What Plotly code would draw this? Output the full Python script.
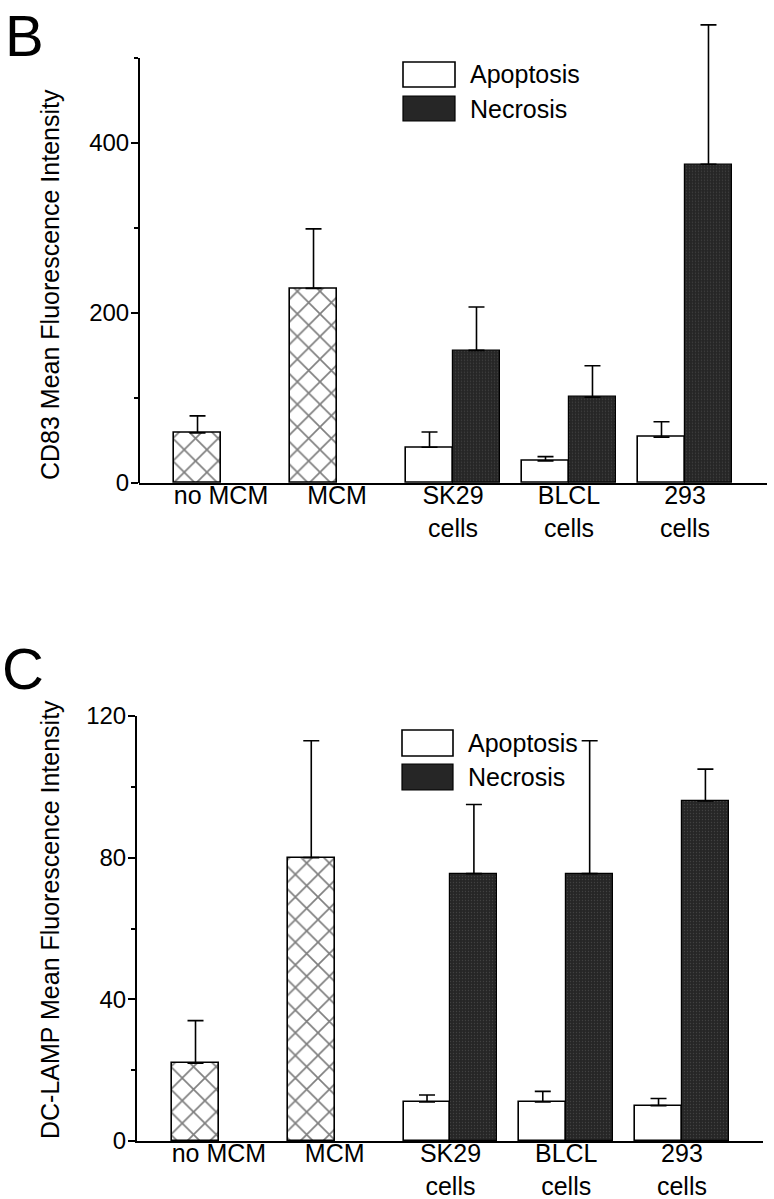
import plotly.graph_objects as go

# ---------------- data ----------------
categories = ["no MCM", "MCM", "SK29<br>cells", "BLCL<br>cells", "293<br>cells"]
control_cats = categories[:2]
cell_cats = categories[2:]

# Panel B: CD83 MFI
cd83_control = [59, 229]
cd83_control_err = [20, 70]
cd83_apoptosis = [42, 26, 54]
cd83_apoptosis_err = [18, 5, 18]
cd83_necrosis = [156, 101, 375]
cd83_necrosis_err = [51, 37, 164]

# Panel C: DC-LAMP MFI
lamp_control = [22, 80]
lamp_control_err = [12, 33]
lamp_apoptosis = [11, 11, 10]
lamp_apoptosis_err = [2, 3, 2]
lamp_necrosis = [75.5, 75.5, 96]
lamp_necrosis_err = [19.5, 37.5, 9]

# ---------------- geometry / style ----------------
FONT = "Liberation Sans, Arial, Helvetica, sans-serif"
BW = 0.405
NEC_COLOR = "#262626"

W, H = 774, 1199
ML, MR, MT, MB = 137, 7, 18, 58
PW = W - ML - MR
PH = H - MT - MB


def px2x(px):               # page pixel -> paper x
    return (px - ML) / PW


def py2y(py):               # page pixel -> paper y
    return (H - MB - py) / PH


def err(vals):
    return dict(type="data", array=vals, arrayminus=[0] * len(vals), symmetric=False,
                color="black", thickness=1.6, width=8)


fig = go.Figure()

panels = [
    ("x", "y", cd83_control, cd83_control_err, cd83_apoptosis, cd83_apoptosis_err,
     cd83_necrosis, cd83_necrosis_err),
    ("x2", "y2", lamp_control, lamp_control_err, lamp_apoptosis, lamp_apoptosis_err,
     lamp_necrosis, lamp_necrosis_err),
]

for xa, ya, c, ce, a, ae, n, ne in panels:
    fig.add_trace(go.Bar(
        x=control_cats, y=c, xaxis=xa, yaxis=ya, width=BW, offset=-BW,
        marker=dict(color="white", line=dict(color="black", width=1.6),
                    pattern=dict(shape="x", fgcolor="black", bgcolor="white",
                                 size=16, solidity=0.2)),
        error_y=err(ce), showlegend=False))
    fig.add_trace(go.Bar(
        x=cell_cats, y=a, xaxis=xa, yaxis=ya, width=BW, offset=-BW,
        marker=dict(color="white", line=dict(color="black", width=1.6)),
        error_y=err(ae), name="Apoptosis", showlegend=False))
    fig.add_trace(go.Bar(
        x=cell_cats, y=n, xaxis=xa, yaxis=ya, width=BW, offset=0,
        marker=dict(color=NEC_COLOR, line=dict(color="black", width=1.2),
                    pattern=dict(shape=".", fgcolor="#5c5c5c", bgcolor=NEC_COLOR,
                                 size=3, solidity=0.15)),
        error_y=err(ne), name="Necrosis", showlegend=False))

xaxis_common = dict(
    type="category", categoryorder="array", categoryarray=categories,
    showline=True, linecolor="black", linewidth=2,
    ticks="", showgrid=False, zeroline=False, ticklabelstandoff=-11,
    tickfont=dict(family=FONT, size=25, color="black"),
)
yaxis_common = dict(
    ticks="outside", ticklen=7, ticklabelstandoff=-3,
    tickwidth=2, tickcolor="black", showgrid=False, zeroline=False,
    tickfont=dict(family=FONT, size=24, color="black"),
)

fig.update_layout(
    width=W, height=H,
    margin=dict(l=ML, r=MR, t=MT, b=MB, autoexpand=False),
    paper_bgcolor="white", plot_bgcolor="white",
    barmode="overlay", bargap=0,
    font=dict(family=FONT, color="black"),
    xaxis=dict(**xaxis_common, anchor="y", domain=[px2x(139), px2x(767)],
               range=[-0.707, 4.707]),
    xaxis2=dict(**xaxis_common, anchor="y2", domain=[px2x(137), px2x(763)],
                range=[-0.708, 4.700]),
    # panel B: the error bar of "293 cells" rises above the 500 axis end
    yaxis=dict(**yaxis_common, anchor="x", domain=[py2y(483), py2y(19.75)],
               range=[0, 545], showline=False, tick0=0, dtick=200,
               minor=dict(tick0=0, dtick=100, ticks="outside", ticklen=4,
                          tickwidth=2, tickcolor="black", showgrid=False)),
    yaxis2=dict(**yaxis_common, anchor="x2", domain=[py2y(1141), py2y(716)],
                range=[0, 120], showline=True, linecolor="black", linewidth=2,
                tick0=0, dtick=40,
                minor=dict(tick0=0, dtick=20, ticks="outside", ticklen=4,
                           tickwidth=2, tickcolor="black", showgrid=False)),
)

# y axis line of panel B, ending at 500 like the original
fig.add_shape(type="line", xref="x domain", yref="y", x0=0, x1=0, y0=0, y1=500,
              line=dict(color="black", width=2))

# ---------------- y axis titles ----------------
for text, cy in (("CD83 Mean Fluorescence Intensity", 285),
                 ("DC-LAMP Mean Fluorescence Intensity", 920)):
    fig.add_annotation(text=text, xref="paper", yref="paper", x=px2x(50), y=py2y(cy),
                       xanchor="center", yanchor="middle", textangle=-90,
                       showarrow=False, font=dict(family=FONT, size=25, color="black"))

# ---------------- legends (drawn as swatches + labels) ----------------
legend_specs = [
    # (box left, box right, apoptosis top, apoptosis bottom, necrosis top, necrosis bottom, text x)
    (403, 455, 62, 87, 96, 121, 468),
    (402, 453, 730, 756, 764, 790, 466),
]
for l, r, at, ab, nt, nb, tx in legend_specs:
    fig.add_shape(type="rect", xref="paper", yref="paper",
                  x0=px2x(l), x1=px2x(r), y0=py2y(ab), y1=py2y(at),
                  fillcolor="white", line=dict(color="black", width=1.6))
    fig.add_shape(type="rect", xref="paper", yref="paper",
                  x0=px2x(l), x1=px2x(r), y0=py2y(nb), y1=py2y(nt),
                  fillcolor=NEC_COLOR, line=dict(color="black", width=1.2))
    for label, top, bot in (("Apoptosis", at, ab), ("Necrosis", nt, nb)):
        fig.add_annotation(text=label, xref="paper", yref="paper",
                           x=px2x(tx), y=py2y((top + bot) / 2),
                           xanchor="left", yanchor="middle", showarrow=False,
                           font=dict(family=FONT, size=25, color="black"))

# ---------------- panel letters ----------------
for letter, cx, cy in (("B", 24, 35), ("C", 23, 668)):
    fig.add_annotation(text=letter, xref="paper", yref="paper",
                       x=px2x(cx), y=py2y(cy), xanchor="center", yanchor="middle",
                       showarrow=False, font=dict(family=FONT, size=58, color="black"))

# the page's default body margin would shift the figure by 8 px; remove it
fig.write_html("out.html", config={"displayModeBar": False},
               post_script="document.body.style.margin = '0px';")
